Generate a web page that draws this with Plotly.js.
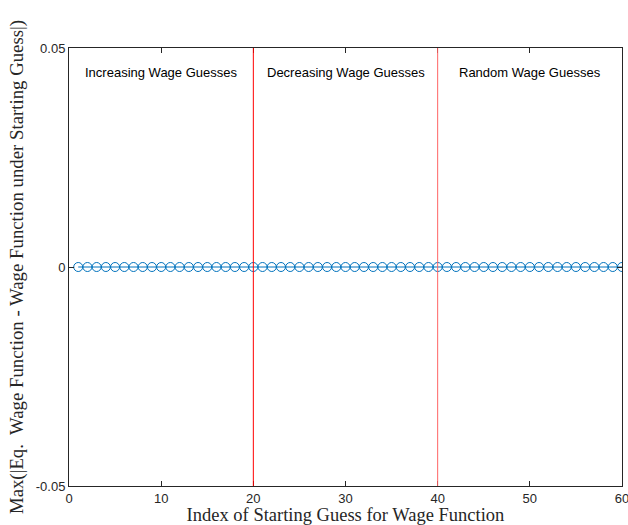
<!DOCTYPE html>
<html>
<head>
<meta charset="utf-8">
<script src="https://cdn.plot.ly/plotly-3.0.1.min.js"></script>
<style>html,body{margin:0;padding:0;background:#fff;}#chart{width:628px;height:525px;}</style>
</head>
<body>
<div id="chart"></div>
<script>
// Data
const guessIndex = Array.from({length: 60}, (_, i) => i + 1);
const maxDiff = [0,0,0,0,0,0,0,0,0,0,0,0,0,0,0,0,0,0,0,0,
                 0,0,0,0,0,0,0,0,0,0,0,0,0,0,0,0,0,0,0,0,
                 0,0,0,0,0,0,0,0,0,0,0,0,0,0,0,0,0,0,0,0];
const dividerX = [20, 40];
const groupLabels = ["Increasing Wage Guesses", "Decreasing Wage Guesses", "Random Wage Guesses"];
const groupLabelX = [10, 30, 50];
const xTicks = [0, 10, 20, 30, 40, 50, 60];
const yTicks = [-0.05, 0, 0.05];
const yTickText = ["-0.05", "0", "0.05"];

const traces = [{
  x: guessIndex,
  y: maxDiff,
  type: 'scatter',
  mode: 'lines+markers',
  line: {color: '#0072BD', width: 1},
  marker: {symbol: 'circle-open', size: 9, color: '#0072BD', line: {width: 1, color: '#0072BD'}},
  hoverinfo: 'skip'
}];

const shapes = dividerX.map((x, i) => ({
  type: 'line', xref: 'x', yref: 'paper', x0: x, x1: x, y0: 0, y1: 1,
  line: {color: i === 0 ? '#ff0000' : '#ff6464', width: 1}
}));

const annotations = groupLabels.map((t, i) => ({
  text: t, x: groupLabelX[i], y: 0.0445, xref: 'x', yref: 'y',
  showarrow: false, xanchor: 'center', yanchor: 'middle',
  font: {family: 'Liberation Sans, Arial, sans-serif', size: 13, color: '#000'}
}));

const axisCommon = {
  showgrid: false, zeroline: false, showline: true, mirror: 'ticks',
  linecolor: '#262626', linewidth: 1, ticks: 'inside', ticklen: 5,
  tickcolor: '#262626', tickwidth: 1, ticklabeloverflow: 'allow',
  tickfont: {family: 'Liberation Sans, Arial, sans-serif', size: 13, color: '#262626'}
};

const layout = {
  width: 628, height: 525,
  margin: {l: 69, r: 6, t: 48, b: 39},
  paper_bgcolor: '#fff', plot_bgcolor: '#fff',
  showlegend: false,
  xaxis: Object.assign({}, axisCommon, {
    range: [0, 60], tickvals: xTicks, ticktext: xTicks.map(String),
    title: {text: 'Index of Starting Guess for Wage Function', standoff: 5,
      font: {family: 'Liberation Serif, DejaVu Serif, serif', size: 18.5, color: '#262626'}}
  }),
  yaxis: Object.assign({}, axisCommon, {
    range: [-0.05, 0.05], tickvals: yTicks, ticktext: yTickText,
    title: {text: 'Max(|Eq.  Wage Function - Wage Function under Starting Guess|)', standoff: 7,
      font: {family: 'Liberation Serif, DejaVu Serif, serif', size: 18.8, color: '#262626'}}
  }),
  shapes: shapes,
  annotations: annotations
};

Plotly.newPlot('chart', traces, layout, {staticPlot: true, displayModeBar: false});
</script>
</body>
</html>
